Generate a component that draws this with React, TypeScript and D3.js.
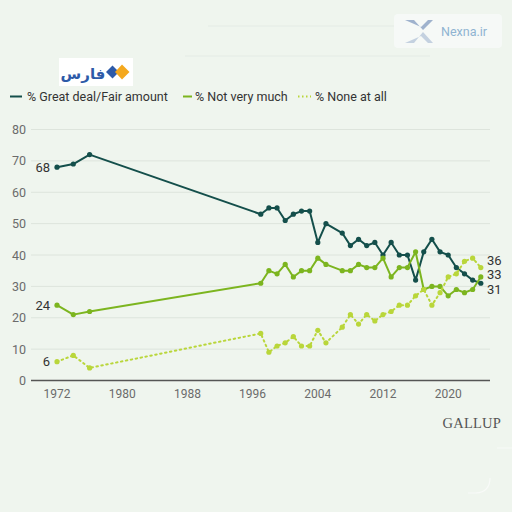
import React from "react";
import * as d3 from "d3";

const years = [1972, 1974, 1976, 1997, 1998, 1999, 2000, 2001, 2002, 2003, 2004, 2005, 2007, 2008, 2009, 2010, 2011, 2012, 2013, 2014, 2015, 2016, 2017, 2018, 2019, 2020, 2021, 2022, 2023, 2024];
const greatDeal = [68, 69, 72, 53, 55, 55, 51, 53, 54, 54, 44, 50, 47, 43, 45, 43, 44, 40, 44, 40, 40, 32, 41, 45, 41, 40, 36, 34, 32, 31];
const notVeryMuch = [24, 21, 22, 31, 35, 34, 37, 33, 35, 35, 39, 37, 35, 35, 37, 36, 36, 39, 33, 36, 36, 41, 29, 30, 30, 27, 29, 28, 29, 33];
const noneAtAll = [6, 8, 4, 15, 9, 11, 12, 14, 11, 11, 16, 12, 17, 21, 18, 21, 19, 21, 22, 24, 24, 27, 29, 24, 28, 33, 34, 38, 39, 36];
const yTicks = [0, 10, 20, 30, 40, 50, 60, 70, 80];
const xTicks = [1972, 1980, 1988, 1996, 2004, 2012, 2020];
const seriesNames = ["% Great deal/Fair amount", "% Not very much", "% None at all"];

const BG = "#eff5ee";
const C_GD = "#144f4b";
const C_NVM = "#7cb51f";
const C_NONE = "#b9d63a";
const FONT = "Roboto, 'Noto Sans', sans-serif";

export default function App() {
  const x = d3.scaleLinear().domain([1972, 2024]).range([57, 480.8]);
  const y = d3.scaleLinear().domain([0, 80]).range([380.5, 129.5]);
  const line = d3
    .line<[number, number]>()
    .x((d) => x(d[0]))
    .y((d) => y(d[1]));

  const series = [
    { name: seriesNames[0], values: greatDeal, color: C_GD, dash: undefined as string | undefined },
    { name: seriesNames[1], values: notVeryMuch, color: C_NVM, dash: undefined as string | undefined },
    { name: seriesNames[2], values: noneAtAll, color: C_NONE, dash: "1.5,3.5" },
  ];

  const last = years.length - 1;
  const rightLabels = [
    { v: noneAtAll[last], dy: -7 },
    { v: notVeryMuch[last], dy: -2 },
    { v: greatDeal[last], dy: 6 },
  ];

  return (
    <div style={{ position: "fixed", left: 0, top: 0, width: 512, height: 512 }}>
      <svg width={512} height={512} style={{ display: "block", fontFamily: FONT }}>
        <rect width={512} height={512} fill={BG} />

        {/* watermark */}
        <rect x={394} y={14} width={108} height={34} rx={4} fill="#f6f9f7" opacity={0.9} />
        <path d="M405,20 L414,20 L423,30 L433,20 L428,20 L421,27 Z" fill="#8fa6c6" opacity={0.85} />
        <path d="M405,43 L414,43 L423,32 L433,43 L428,43 L421,36 Z" fill="#a9bcd4" opacity={0.65} />
        <text x={441} y={35.5} fontSize={12.5} fill="#8fb4d2" fontFamily={FONT}>Nexna.ir</text>
        <line x1={208} y1={26} x2={394} y2={26} stroke="#e4ebe5" strokeWidth={1} />
        <line x1={185} y1={56} x2={430} y2={56} stroke="#e4ebe5" strokeWidth={1} />

        {/* Fars logo */}
        <rect x={59} y={58} width={74} height={28} fill="#ffffff" />
        <text x={83} y={79} fontSize={15} fill="#2d5aa8" textAnchor="middle" fontWeight="bold" fontFamily="'DejaVu Sans', sans-serif">فارس</text>
        <path d="M106,72 L112.5,65.5 L119,72 L112.5,78.5 Z" fill="#2d5aa8" />
        <path d="M115,72 L122,64.5 L129.5,72 L122,79.5 Z" fill="#f4a81d" />

        {/* legend */}
        <g fontSize={12.5} fill="#333">
          <line x1={10} y1={96.5} x2={22} y2={96.5} stroke={C_GD} strokeWidth={2} />
          <text x={27} y={100.8}>{seriesNames[0]}</text>
          <line x1={183} y1={96.5} x2={192} y2={96.5} stroke={C_NVM} strokeWidth={2} />
          <text x={195} y={100.8}>{seriesNames[1]}</text>
          <line x1={298} y1={96.5} x2={311} y2={96.5} stroke={C_NONE} strokeWidth={2} strokeDasharray="1.5,2.5" />
          <text x={315} y={100.8}>{seriesNames[2]}</text>
        </g>

        {/* gridlines */}
        {yTicks.filter((t) => t > 0).map((t) => (
          <line key={t} x1={31} x2={490} y1={y(t)} y2={y(t)} stroke="#dde4dc" strokeWidth={1} />
        ))}
        {yTicks.map((t) => (
          <text key={"yl" + t} x={26} y={y(t) + 4.5} textAnchor="end" fontSize={12.5} fill="#6b6b6b">{t}</text>
        ))}
        <line x1={31} x2={490} y1={y(0)} y2={y(0)} stroke="#555" strokeWidth={1.5} />
        {xTicks.map((t) => (
          <text key={"xl" + t} x={x(t)} y={397.5} textAnchor="middle" fontSize={12} fill="#6b6b6b">{t}</text>
        ))}

        {/* series */}
        {series.map((s) => {
          const pts = years.map((yr, i) => [yr, s.values[i]] as [number, number]);
          return (
            <g key={s.name}>
              <path
                d={line(pts) || ""}
                fill="none"
                stroke={s.color}
                strokeWidth={2}
                strokeDasharray={s.dash}
                strokeLinecap={s.dash ? "round" : "butt"}
                strokeLinejoin="round"
              />
              {pts.map((p, i) => (
                <circle key={i} cx={x(p[0])} cy={y(p[1])} r={2.6} fill={s.color} />
              ))}
            </g>
          );
        })}

        {/* start labels */}
        <g fontSize={13} fill="#333" textAnchor="end">
          <text x={50} y={y(greatDeal[0]) + 4.5}>{greatDeal[0]}</text>
          <text x={50} y={y(notVeryMuch[0]) + 4.5}>{notVeryMuch[0]}</text>
          <text x={50} y={y(noneAtAll[0]) + 4.5}>{noneAtAll[0]}</text>
        </g>
        {/* end labels */}
        <g fontSize={13} fill="#333">
          {rightLabels.map((l) => (
            <text key={l.v} x={487} y={y(l.v) + l.dy + 4.5}>{l.v}</text>
          ))}
        </g>

        <text x={501} y={428} textAnchor="end" fontSize={14.5} fill="#555" fontFamily="'Liberation Serif', 'DejaVu Serif', serif" letterSpacing={0.2}>GALLUP</text>

        {/* bottom watermark corner */}
        <path d="M497,448 L512,448" stroke="#f7faf7" strokeWidth={1} />
        <path d="M490,478 Q490,492 476,493 L468,493" fill="none" stroke="#f8faf8" strokeWidth={1.2} />
      </svg>
    </div>
  );
}
